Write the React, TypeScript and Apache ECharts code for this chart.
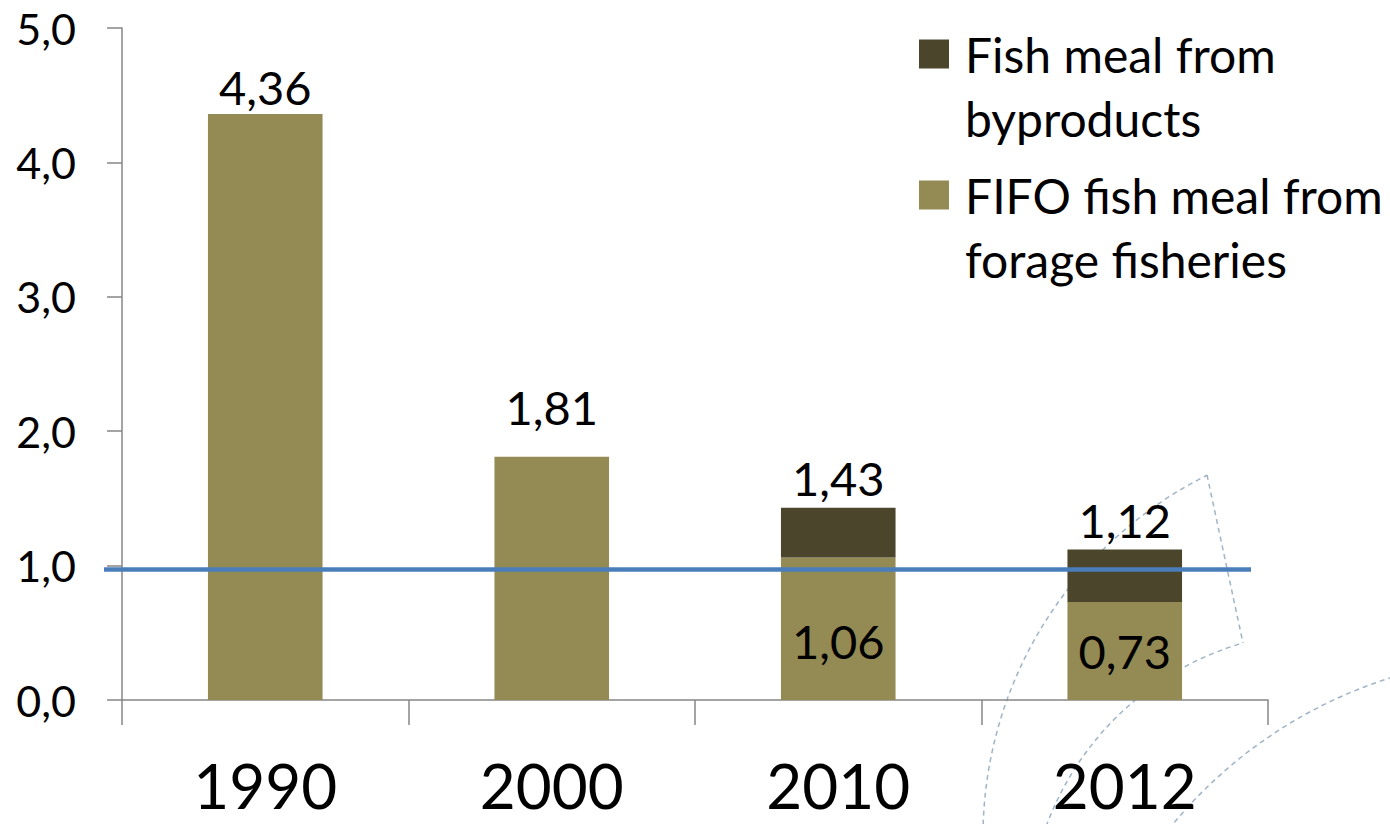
import React, { useEffect, useRef } from "react";
import * as echarts from "echarts";

const categories = ["1990", "2000", "2010", "2012"];
const fifoValues = [4.36, 1.81, 1.06, 0.73];
const byproductValues: (number | null)[] = [null, null, 0.37, 0.39];
const thresholdValue = 0.97;
const yMin = 0;
const yMax = 5;
const yInterval = 1;
const seriesNames = ["Fish meal from byproducts", "FIFO fish meal from forage fisheries"];
const legendLabels: Record<string, string> = {
  "Fish meal from byproducts": "\nFish meal from\nbyproducts",
  "FIFO fish meal from forage fisheries": "\nFIFO fish meal from\nforage fisheries",
};

const FONT = "Lato, 'Liberation Sans', sans-serif";
const fmt2 = (v: number) => v.toFixed(2).replace(".", ",");
const fmt1 = (v: number) => v.toFixed(1).replace(".", ",");

export default function App() {
  const ref = useRef<HTMLDivElement>(null);
  useEffect(() => {
    if (!ref.current) return;
    const chart = echarts.init(ref.current, undefined, { renderer: "svg" });
    const labelStyle = { color: "#000", fontFamily: FONT, fontSize: 47 };
    const topDistances = [4, 26, 0, 0];
    const fifoData = fifoValues.map((v, i) => ({
      value: v,
      label:
        byproductValues[i] == null
          ? { show: true, position: "top", distance: topDistances[i], formatter: () => fmt2(v), ...labelStyle }
          : { show: true, position: "inside", offset: [0, i === 2 ? 12 : 0], formatter: () => fmt2(v), ...labelStyle },
    }));
    const dash = { stroke: "#9fb4c6", lineWidth: 1.5, lineDash: [5, 4], fill: "none" };
    chart.setOption({
      animation: false,
      grid: { left: 122, right: 122, top: 28, bottom: 124, containLabel: false },
      legend: {
        orient: "vertical",
        left: 919,
        top: -42,
        padding: 0,
        itemGap: -51,
        itemWidth: 30,
        itemHeight: 29,
        icon: "rect",
        data: seriesNames,
        formatter: (name: string) => legendLabels[name] || name,
        textStyle: {
          color: "#000",
          fontFamily: FONT,
          fontSize: 48,
          lineHeight: 64,
          padding: [0, 0, 0, 11],
        },
        selectedMode: false,
      },
      xAxis: {
        type: "category",
        data: categories,
        boundaryGap: true,
        axisLine: { lineStyle: { color: "#868686", width: 1.5 } },
        axisTick: { show: true, length: 25, inside: false, lineStyle: { color: "#868686", width: 1.5 } },
        axisLabel: { color: "#000", fontFamily: FONT, fontSize: 62, lineHeight: 50, margin: 60 },
      },
      yAxis: {
        type: "value",
        min: yMin,
        max: yMax,
        interval: yInterval,
        axisLine: { show: true, lineStyle: { color: "#868686", width: 1.5 } },
        axisTick: { show: true, length: 15, lineStyle: { color: "#868686", width: 1.5 } },
        splitLine: { show: false },
        axisLabel: { color: "#000", fontFamily: FONT, fontSize: 43, margin: 46, formatter: (v: number) => fmt1(v) },
      },
      graphic: [
        { type: "arc", z: -10, shape: { cx: 1387, cy: 837, r: 404, startAngle: -3.2, endAngle: -2.032, clockwise: true }, style: dash },
        { type: "polyline", z: -10, shape: { points: [[1207, 475], [1243, 643]] }, style: dash },
        { type: "arc", z: -10, shape: { cx: 1325.6, cy: 929, r: 297.7, startAngle: -2.85, endAngle: -1.852, clockwise: true }, style: dash },
        { type: "arc", z: -10, shape: { cx: 1529.5, cy: 1119.7, r: 463.2, startAngle: -2.6, endAngle: -1.85, clockwise: true }, style: dash },
      ],
      series: [
        {
          name: seriesNames[1],
          type: "bar",
          stack: "total",
          barWidth: "40%",
          itemStyle: { color: "#948a54" },
          data: fifoData,
          markLine: {
            silent: true,
            symbol: "none",
            label: { show: false },
            lineStyle: { color: "#4a7ebb", width: 4.5, type: "solid" },
            data: [[{ x: 104, yAxis: thresholdValue }, { x: 1251, yAxis: thresholdValue }]],
          },
          z: 2,
        },
        {
          name: seriesNames[0],
          type: "bar",
          stack: "total",
          barWidth: "40%",
          itemStyle: { color: "#4b452c" },
          data: byproductValues,
          label: {
            show: true,
            position: "top",
            distance: 6,
            ...labelStyle,
            formatter: (p: any) => fmt2(fifoValues[p.dataIndex] + (byproductValues[p.dataIndex] as number)),
          },
        },
      ],
    });
    return () => chart.dispose();
  }, []);
  return <div ref={ref} style={{ position: "absolute", left: 0, top: 0, width: 1390, height: 824 }} />;
}
